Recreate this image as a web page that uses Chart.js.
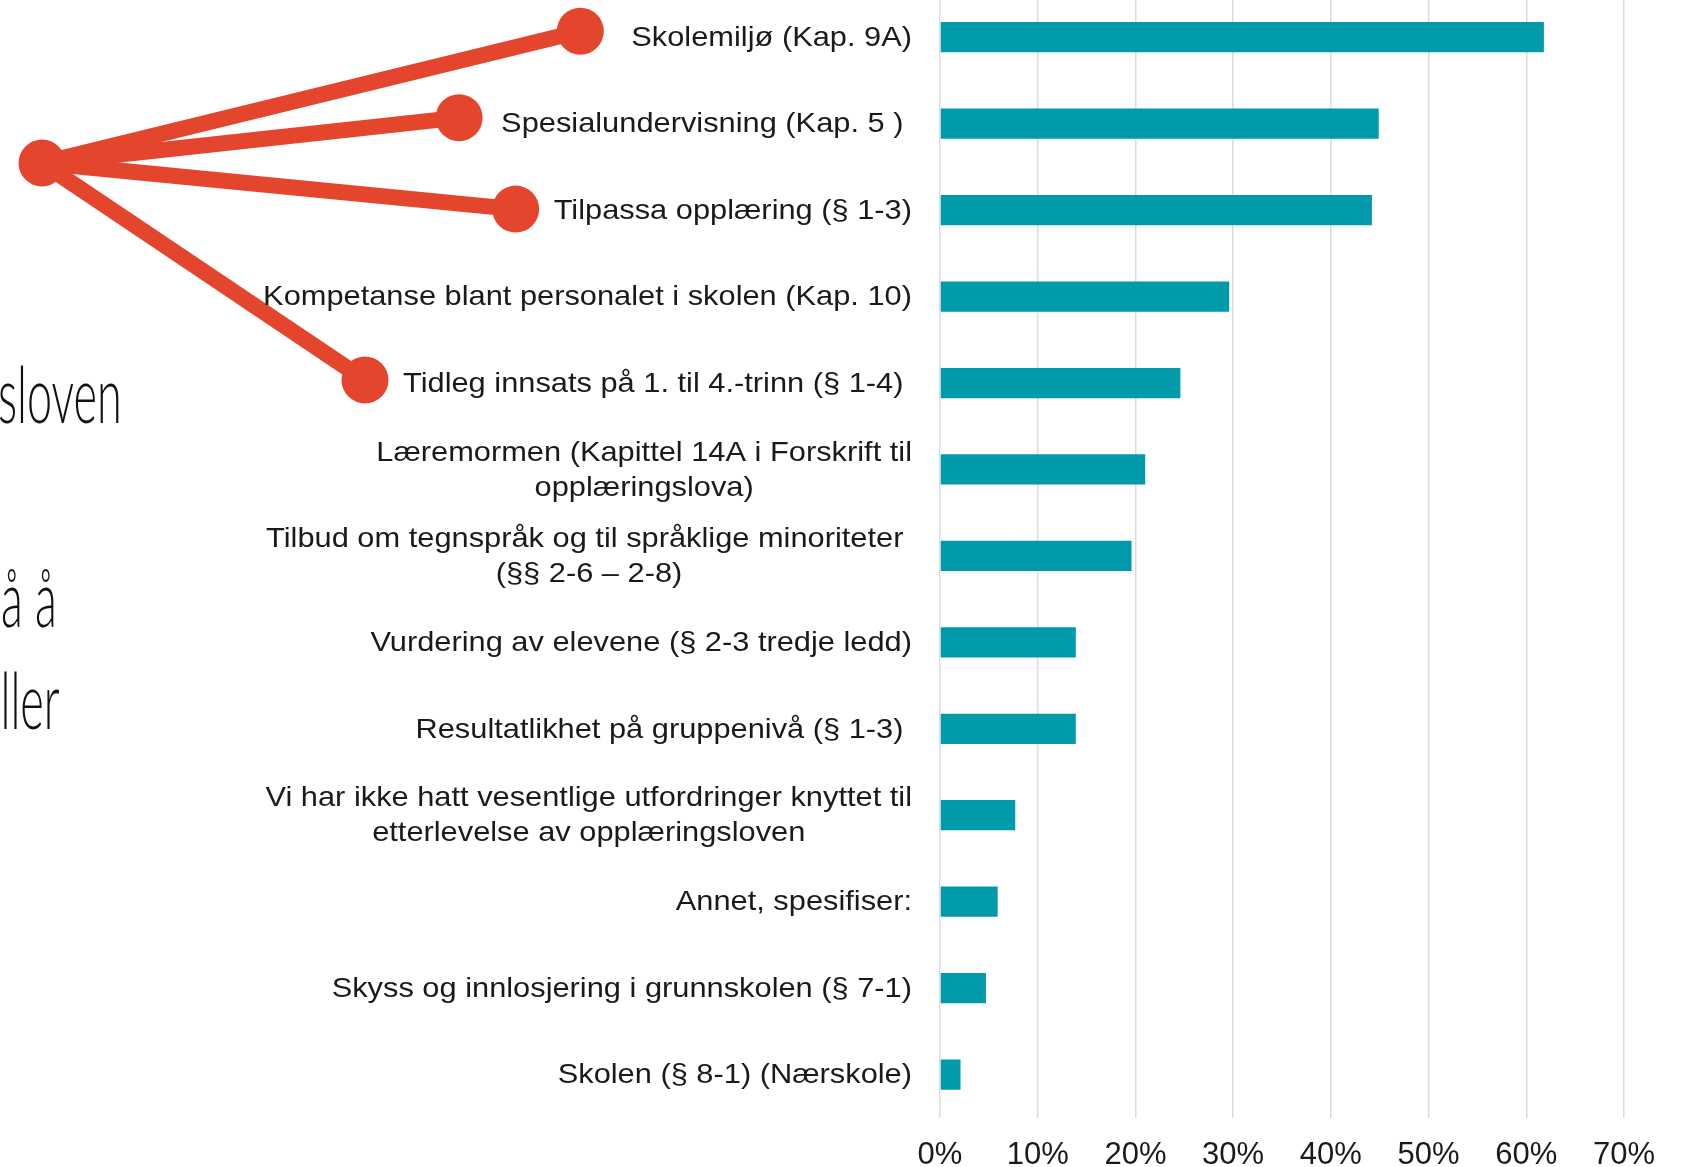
<!DOCTYPE html>
<html lang="no">
<head>
<meta charset="utf-8">
<title>Utfordringer knyttet til opplæringsloven</title>
<script src="https://cdn.jsdelivr.net/npm/chart.js@4.4.1/dist/chart.umd.min.js"></script>
<style>
  html, body { margin: 0; padding: 0; background: #fff; }
  body { width: 1683px; height: 1167px; overflow: hidden; position: relative; }
  #wrap { position: absolute; left: 0; top: -6px; width: 1683px; height: 1199px; }
  .frag {
    position: absolute;
    font-family: Lato, Roboto, "Open Sans", sans-serif;
    font-weight: 300;
    font-size: 78px;
    line-height: 78px;
    color: #111;
    white-space: pre;
    text-align: right;
    transform-origin: right center;
  }
</style>
</head>
<body>
<div class="frag" id="frag1" style="right:1561px; top:354px;">sloven</div>
<div class="frag" id="frag2" style="right:1626px; top:558px;">å å</div>
<div class="frag" id="frag3" style="right:1623px; top:660px;">ller</div>
<div id="wrap"><canvas id="chart"></canvas></div>
<script>
// Kategorier (fleirlinja etikettar som lister)
const categories = [
  'Skolemiljø (Kap. 9A)',
  'Spesialundervisning (Kap. 5 ) ',
  'Tilpassa opplæring (§ 1-3)',
  'Kompetanse blant personalet i skolen (Kap. 10)',
  'Tidleg innsats på 1. til 4.-trinn (§ 1-4) ',
  ['Læremormen (Kapittel 14A i Forskrift til', 'opplæringslova)'],
  ['Tilbud om tegnspråk og til språklige minoriteter ', '(§§ 2-6 – 2-8)'],
  'Vurdering av elevene (§ 2-3 tredje ledd)',
  'Resultatlikhet på gruppenivå (§ 1-3) ',
  ['Vi har ikke hatt vesentlige utfordringer knyttet til', 'etterlevelse av opplæringsloven'],
  'Annet, spesifiser:',
  'Skyss og innlosjering i grunnskolen (§ 7-1)',
  'Skolen (§ 8-1) (Nærskole)'
];

// Andel (%)
const shares = [61.8, 44.9, 44.2, 29.6, 24.6, 21.0, 19.6, 13.9, 13.9, 7.7, 5.9, 4.7, 2.1];

// Akse
const tickMin = 0;
const tickMax = 70;
const tickStep = 10;

// Kategoriar som er markerte med raude linjer
const highlighted = [
  { cat: 0, dx: -51, dy: -6 },
  { cat: 1, dx: -42, dy: -6 },
  { cat: 2, dx: -38, dy: -1 },
  { cat: 4, dx: -38, dy: -3 }
];

const TEAL = '#009aab';
const RED = '#e4462d';
const LABEL_FONT = '28px "Liberation Sans", Arial, sans-serif';
const STRETCH = 1.1;
const LINE_H = 35;

// Plassering av kategorietikettane (høgrejustert blokk, sentrerte linjer)
function labelLayout(chart) {
  const ctx = chart.ctx;
  const yScale = chart.scales.y;
  const right = chart.chartArea.left - 28;
  ctx.save();
  ctx.font = LABEL_FONT;
  const out = categories.map((lab, i) => {
    const lines = Array.isArray(lab) ? lab : [lab];
    const w = Math.max(...lines.map(l => ctx.measureText(l).width)) * STRETCH;
    return { lines, cx: right - w / 2, left: right - w, cy: yScale.getPixelForValue(i) };
  });
  ctx.restore();
  return out;
}

const annotationPlugin = {
  id: 'annotation',
  afterDatasetsDraw(chart) {
    const ctx = chart.ctx;
    const layout = labelLayout(chart);
    const hub = { x: 42, y: 169 };
    ctx.save();
    ctx.strokeStyle = RED;
    ctx.fillStyle = RED;
    ctx.lineWidth = 16;
    const ends = highlighted.map(h => ({
      x: layout[h.cat].left + h.dx,
      y: layout[h.cat].cy + h.dy
    }));
    ends.forEach(p => {
      ctx.beginPath();
      ctx.moveTo(hub.x, hub.y);
      ctx.lineTo(p.x, p.y);
      ctx.stroke();
    });
    [hub, ...ends].forEach(p => {
      ctx.beginPath();
      ctx.arc(p.x, p.y, 23.5, 0, Math.PI * 2);
      ctx.fill();
    });
    ctx.restore();
  }
};

const categoryLabelPlugin = {
  id: 'categoryLabels',
  afterDraw(chart) {
    const ctx = chart.ctx;
    const layout = labelLayout(chart);
    ctx.save();
    ctx.font = LABEL_FONT;
    ctx.fillStyle = '#1a1a1a';
    ctx.textAlign = 'center';
    ctx.textBaseline = 'middle';
    layout.forEach(item => {
      item.lines.forEach((line, k) => {
        const ly = item.cy + 1 + (k - (item.lines.length - 1) / 2) * LINE_H;
        ctx.save();
        ctx.translate(item.cx, ly);
        ctx.scale(STRETCH, 1);
        ctx.fillText(line, 0, 0);
        ctx.restore();
      });
    });
    ctx.restore();
  }
};

function initChart() {
  const ctx = document.getElementById('chart').getContext('2d');

  new Chart(ctx, {
    type: 'bar',
    data: {
      labels: categories,
      datasets: [{
        data: shares,
        backgroundColor: TEAL,
        borderWidth: 0,
        barPercentage: 0.35,
        categoryPercentage: 1.0
      }]
    },
    options: {
      indexAxis: 'y',
      responsive: true,
      maintainAspectRatio: false,
      animation: false,
      layout: { padding: { left: 940, right: 59, top: 0, bottom: 0 } },
      plugins: {
        legend: { display: false },
        tooltip: { enabled: false }
      },
      scales: {
        x: {
          min: tickMin,
          max: tickMax,
          ticks: {
            stepSize: tickStep,
            padding: 19,
            color: '#1a1a1a',
            font: { family: '"Liberation Sans", Arial, sans-serif', size: 31 },
            callback: v => v + '%'
          },
          grid: { color: '#dcdcdc', lineWidth: 1.5, drawTicks: false },
          border: { display: false }
        },
        y: {
          display: false
        }
      }
    },
    plugins: [annotationPlugin, categoryLabelPlugin]
  });
}

// Smalare skrift for tekstbitane til venstre
function condenseFragments() {
  const first = document.getElementById('frag1');
  const s = 124 / first.offsetWidth;
  ['frag1', 'frag2', 'frag3'].forEach(id => {
    document.getElementById(id).style.transform = 'scaleX(' + s + ')';
  });
}

document.addEventListener('DOMContentLoaded', () => {
  condenseFragments();
  initChart();
});
</script>
</body>
</html>
